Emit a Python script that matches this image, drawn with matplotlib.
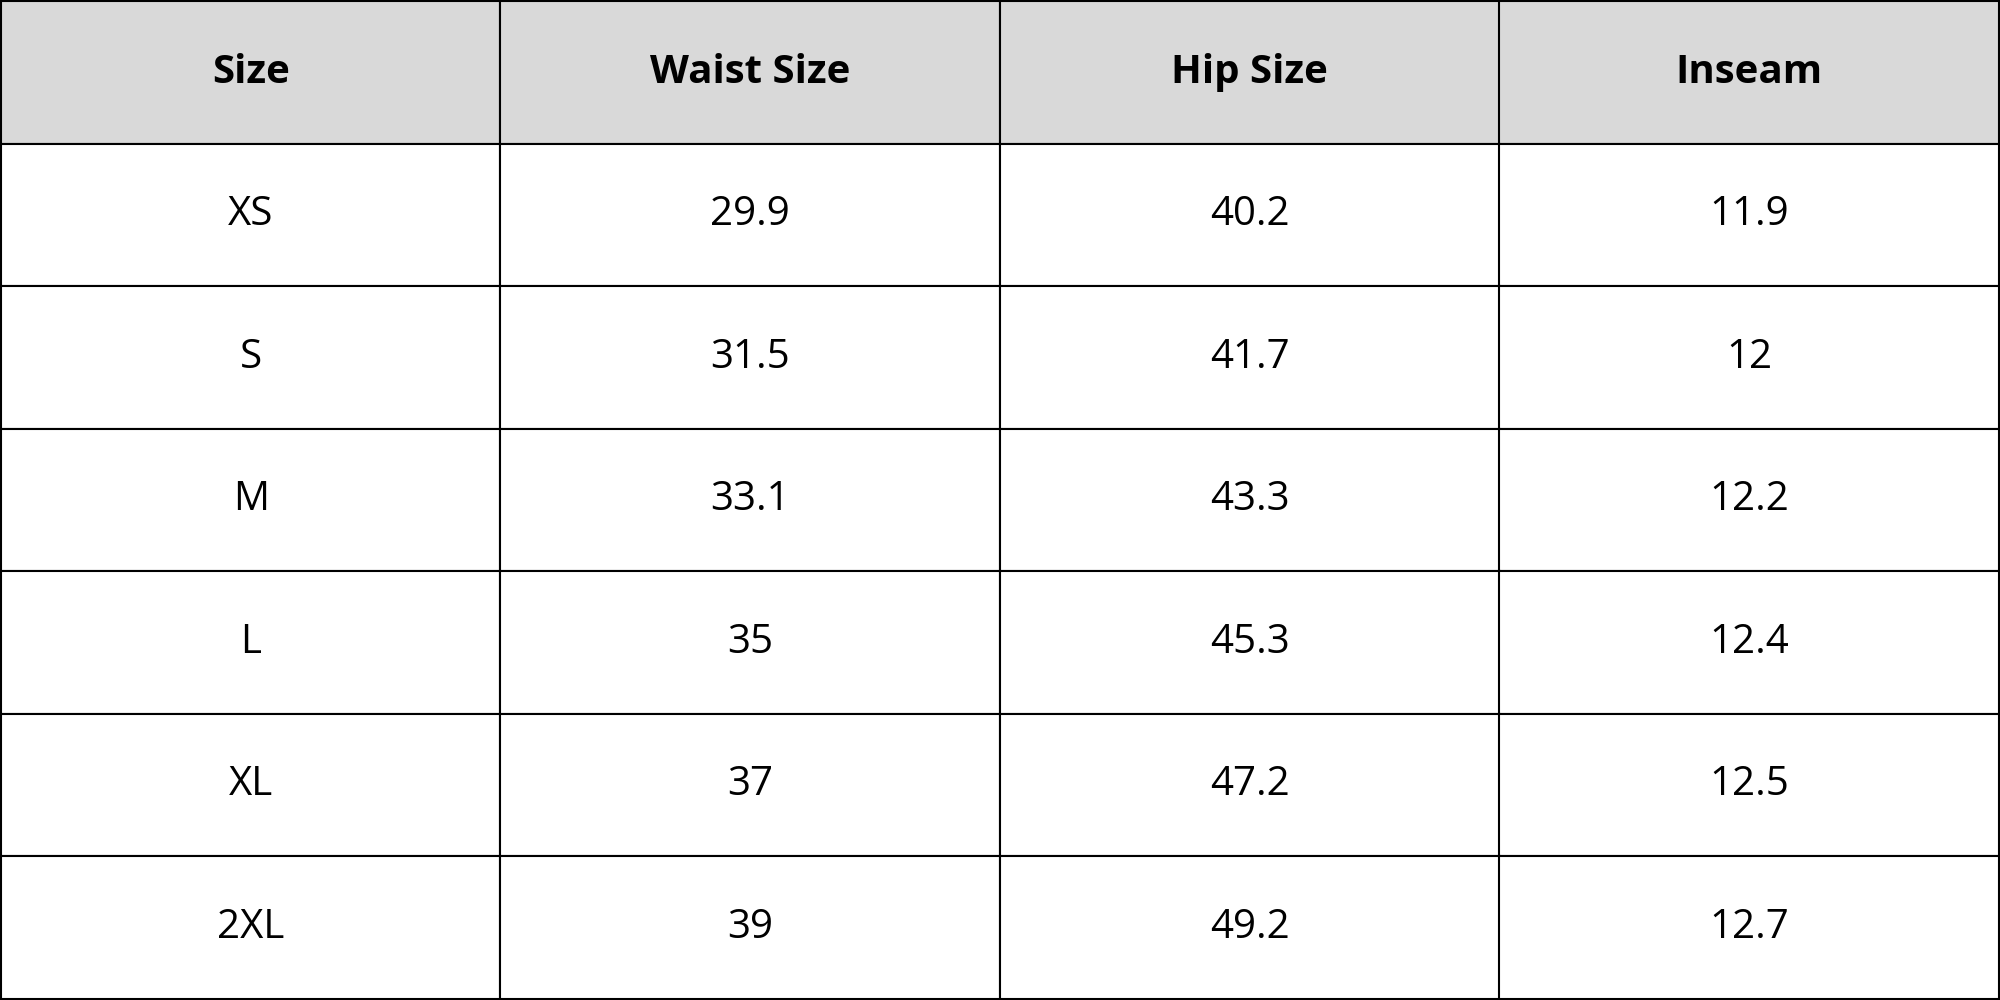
import matplotlib.pyplot as plt

# Data tabel ukuran
headers = ["Size", "Waist Size", "Hip Size", "Inseam"]
sizes = ["XS", "S", "M", "L", "XL", "2XL"]
waist = ["29.9", "31.5", "33.1", "35", "37", "39"]
hip = ["40.2", "41.7", "43.3", "45.3", "47.2", "49.2"]
inseam = ["11.9", "12", "12.2", "12.4", "12.5", "12.7"]

rows = [list(r) for r in zip(sizes, waist, hip, inseam)]

fig = plt.figure(figsize=(20, 10), dpi=100)
ax = fig.add_axes([0, 0, 1, 1])
ax.axis("off")

tbl = ax.table(cellText=rows, colLabels=headers, cellLoc="center",
               bbox=[0.0005, 0.001, 0.999, 0.998])
tbl.auto_set_font_size(False)
for (r, c), cell in tbl.get_celld().items():
    cell.set_edgecolor("black")
    cell.set_linewidth(1.5)
    txt = cell.get_text()
    txt.set_fontsize(29)
    txt.set_family("Open Sans")
    if r == 0:
        cell.set_facecolor("#d9d9d9")
        txt.set_fontweight("bold")
    else:
        cell.set_facecolor("white")

fig.savefig("out.png", dpi=100)
